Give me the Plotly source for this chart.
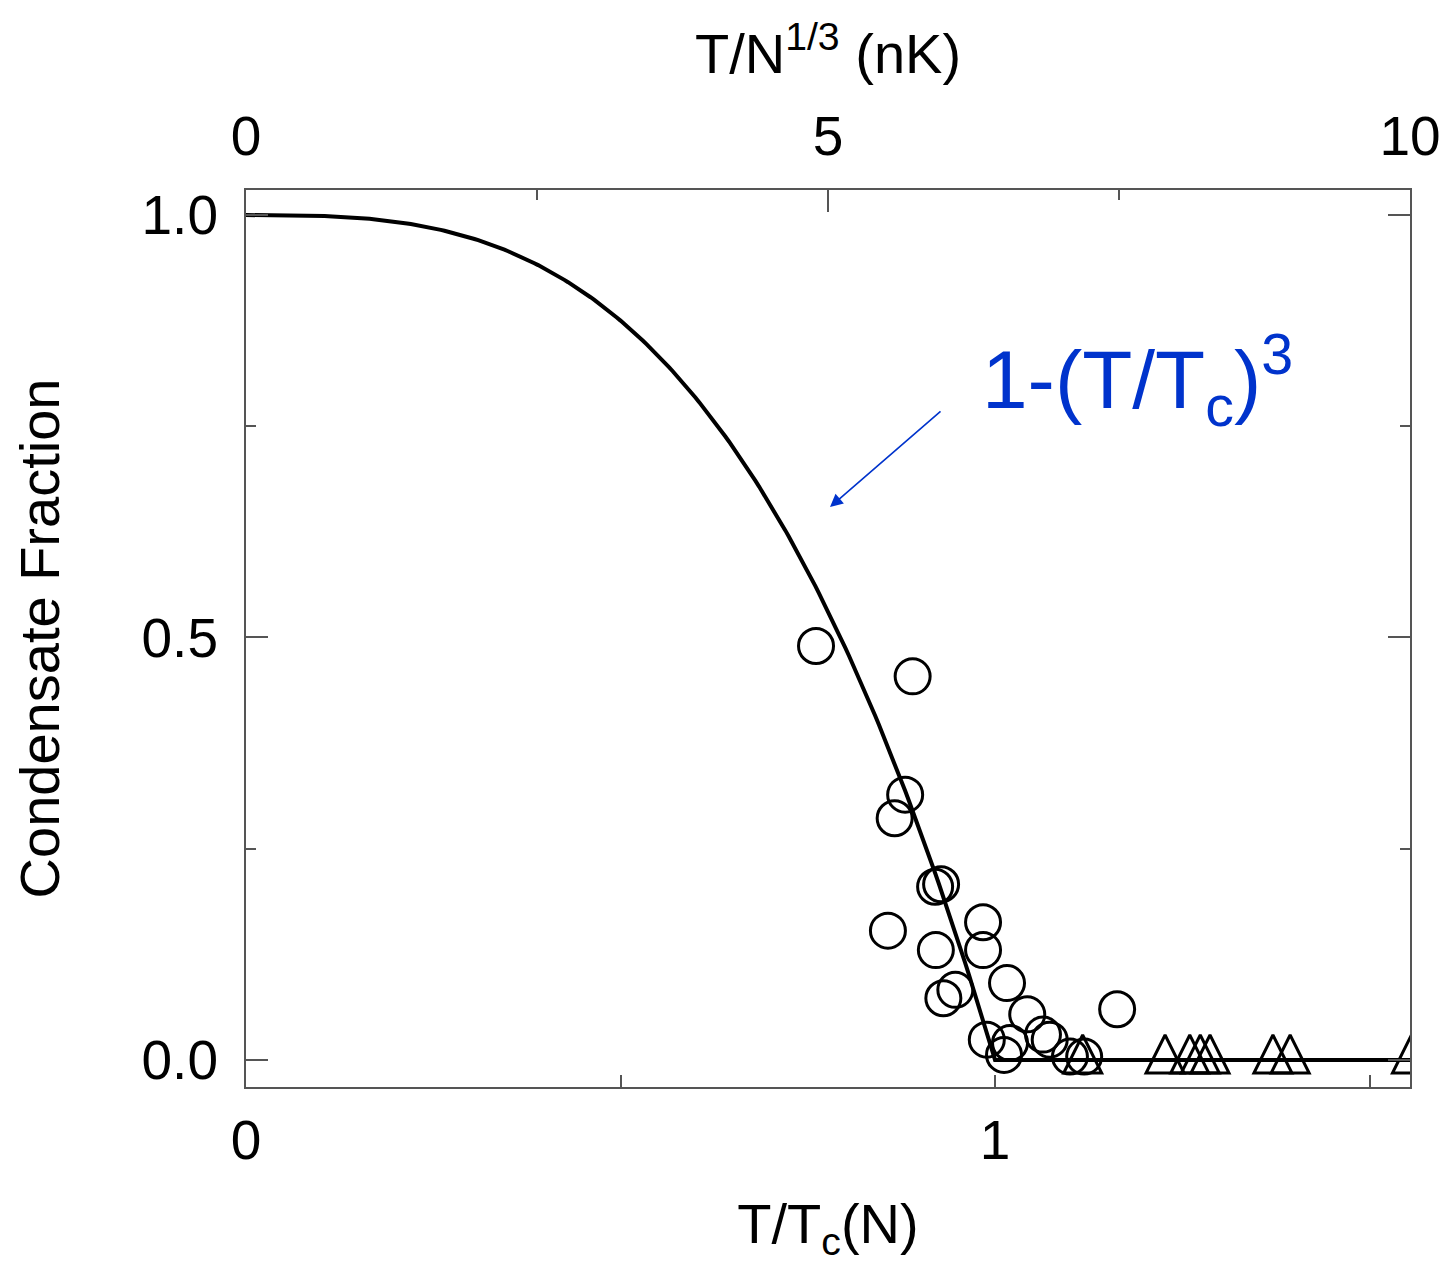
import plotly.graph_objects as go

# Data
circle_x = [0.761, 0.890, 0.880, 0.866, 0.920, 0.928, 0.857, 0.984, 0.921, 0.984,
            0.931, 0.947, 1.016, 1.043, 0.989, 1.012, 1.020, 1.064, 1.073, 1.100,
            1.119, 1.163]
circle_y = [0.490, 0.454, 0.314, 0.286, 0.205, 0.208, 0.153, 0.163, 0.130, 0.130,
            0.073, 0.083, 0.091, 0.054, 0.024, 0.006, 0.020, 0.030, 0.024, 0.004,
            0.004, 0.060]
triangle_x = [1.117, 1.227, 1.260, 1.274, 1.287, 1.371, 1.394, 1.556]
triangle_y = [0.0, 0.0, 0.0, 0.0, 0.0, 0.0, 0.0, 0.0]

# Theory curve 1-(T/Tc)^3 (zero above Tc)
theory_x = [i / 200 for i in range(0, 312)]
theory_y = [max(0.0, 1 - t ** 3) for t in theory_x]

x_tickvals = [0, 1]
x_ticktext = ["0", "1"]
x_minor_tickvals = [0.5, 1.5]
top_tickvals = [0, 5, 10]
top_ticktext = ["0", "5", "10"]
top_minor_tickvals = [2.5, 7.5]
y_tickvals = [0, 0.5, 1.0]
y_ticktext = ["0.0", "0.5", "1.0"]
y_minor_tickvals = [0.25, 0.75]

FONT = "Liberation Sans, Arial, Helvetica, sans-serif"
AX = "#555555"
BLUE = "#0033CC"

fig = go.Figure()
fig.add_trace(go.Scatter(x=theory_x, y=theory_y, mode="lines",
                         line=dict(color="black", width=4), showlegend=False,
                         hoverinfo="skip"))
fig.add_trace(go.Scatter(x=circle_x, y=circle_y, mode="markers",
                         marker=dict(symbol="circle-open", size=35, color="black",
                                     line=dict(width=3, color="black")),
                         showlegend=False))
fig.add_trace(go.Scatter(x=triangle_x, y=triangle_y, mode="markers",
                         marker=dict(symbol="arrow-down-open", size=38, angle=180,
                                     standoff=25, color="black",
                                     line=dict(width=3, color="black")),
                         showlegend=False))
# dummy trace to activate top axis
fig.add_trace(go.Scatter(x=[0, 10], y=[None, None], xaxis="x2", showlegend=False,
                         hoverinfo="skip"))

fig.update_layout(
    width=1452, height=1273,
    margin=dict(l=246, r=42, t=190, b=186),
    paper_bgcolor="white", plot_bgcolor="white",
    font=dict(family=FONT, color="black", size=55),
    xaxis=dict(range=[0, 1.554], tickvals=x_tickvals, ticktext=x_ticktext,
               ticks="inside", ticklen=12, tickwidth=2, tickcolor=AX,
               minor=dict(tickvals=x_minor_tickvals, ticks="inside", ticklen=12,
                          tickwidth=2, tickcolor=AX),
               showline=True, linewidth=2, linecolor=AX, mirror=False,
               showgrid=False, zeroline=False, ticklabelstandoff=4,
               tickfont=dict(size=55),
               title=dict(text="T/T<sub>c</sub>(N)", font=dict(size=56), standoff=34)),
    xaxis2=dict(range=[0, 10], overlaying="x", side="top", anchor="y",
                tickvals=top_tickvals, ticktext=top_ticktext,
                ticks="inside", ticklen=22, tickwidth=2, tickcolor=AX,
                minor=dict(tickvals=top_minor_tickvals, ticks="inside", ticklen=10,
                           tickwidth=2, tickcolor=AX),
                showline=True, linewidth=2, linecolor=AX,
                showgrid=False, zeroline=False, ticklabelstandoff=11,
                tickfont=dict(size=55),
                title=dict(text="T/N<sup>1/3</sup> (nK)", font=dict(size=56), standoff=13)),
    yaxis=dict(range=[-0.032, 1.0296], tickvals=y_tickvals, ticktext=y_ticktext,
               ticks="inside", ticklen=22, tickwidth=2, tickcolor=AX,
               minor=dict(tickvals=y_minor_tickvals, ticks="inside", ticklen=10,
                          tickwidth=2, tickcolor=AX),
               showline=True, linewidth=2, linecolor=AX, mirror="ticks",
               showgrid=False, zeroline=False, ticklabelstandoff=15,
               tickfont=dict(size=55),
               title=dict(text="Condensate Fraction", font=dict(size=56), standoff=64)),
    annotations=[
        dict(x=0.7797, y=0.6544, xref="x", yref="y", ax=112, ay=-97,
             axref="pixel", ayref="pixel", text="", showarrow=True,
             arrowhead=2, arrowsize=1.6, arrowwidth=1.6, arrowcolor=BLUE),
        dict(x=0.980, y=0.805, xref="x", yref="y", xanchor="left", yanchor="middle",
             text="1-(T/T<sub>c</sub>)<sup>3</sup>", showarrow=False,
             font=dict(size=82, color=BLUE, family=FONT)),
    ],
)

fig.write_html("out.html")
